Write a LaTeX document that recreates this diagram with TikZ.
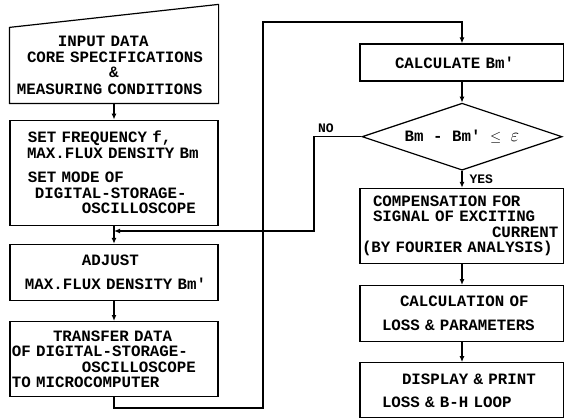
\documentclass[tikz,border=0pt]{standalone}
\usepackage{fontspec}
\newfontfamily\flowfont{Liberation Mono}
\usetikzlibrary{positioning,shapes.geometric,arrows.meta}
\newcommand{\ind}[1]{\hspace*{#1pt}}

\begin{document}
\begin{tikzpicture}[x=1pt, y=-1pt,
    every node/.style={font=\flowfont\bfseries\fontsize{15.8}{15.5}\selectfont},
    lbox/.style={draw, line width=1.2pt, inner xsep=2pt, inner ysep=0pt,
        minimum width=208pt, text width=204pt, align=left},
    rbox/.style={lbox, minimum width=204pt, text width=200pt},
    flow/.style={-{Latex[length=6pt,width=5pt]}, line width=1.2pt},
    tag/.style={font=\flowfont\bfseries\fontsize{13}{13}\selectfont, inner sep=1pt}]

    \useasboundingbox (0,0) rectangle (564,417);

    % left column
    \node[lbox, draw=none, minimum height=75pt] (input) at (114,65.5)
        {\ind{46}INPUT DATA\\\ind{15}CORE SPECIFICATIONS\\\ind{97}\&\\[1pt]\ind{5}MEASURING CONDITIONS};
    \draw[line width=1.2pt, line join=round] (input.north west) -- (input.south west)
        -- (input.south east) -- ([yshift=23pt]input.north east) -- cycle;
    \node[lbox, minimum height=105pt, below=16pt of input] (setup)
        {\ind{16}SET FREQUENCY f,\\\ind{15}MAX.FLUX DENSITY Bm\\[9pt]\ind{16}SET MODE OF\\\ind{23}DIGITAL-STORAGE-\\\ind{70}OSCILLOSCOPE};
    \node[lbox, minimum height=56pt, below=18pt of setup] (adjust)
        {\ind{70}ADJUST\\[8.5pt]\ind{13}MAX.FLUX DENSITY Bm'};
    \node[lbox, minimum height=75pt, below=20pt of adjust] (transfer)
        {\ind{41}TRANSFER DATA\\OF DIGITAL-STORAGE-\\\ind{70}OSCILLOSCOPE\\TO MICROCOMPUTER};

    % right column
    \node[rbox, minimum height=37pt] (calc) at (462,62.5) {\ind{33}CALCULATE Bm'};
    \node[draw, diamond, aspect=3, line width=1.2pt, minimum width=200pt, minimum height=67pt,
        inner sep=0pt, below=21pt of calc] (test)
        {Bm - Bm' $\leq$ \scalebox{1.3}{$\varepsilon$}};
    \node[rbox, minimum height=75pt, below=17pt of test] (comp)
        {\ind{11}COMPENSATION FOR\\\ind{11}SIGNAL OF EXCITING\\\mbox{\ind{130}CURRENT}\\\mbox{(BY FOURIER ANALYSIS)}};
    \node[rbox, minimum height=56pt, below=21pt of comp] (loss)
        {\ind{38}CALCULATION OF\\[8.5pt]\ind{20}LOSS \& PARAMETERS};
    \node[rbox, minimum height=55pt, below=20pt of loss] (display)
        {\ind{40}DISPLAY \& PRINT\\[7.5pt]\ind{20}LOSS \& B-H LOOP};

    \coordinate (backlow) at (263,408);
    \coordinate (backtop) at (263,22);
    \coordinate (nobend) at (314,231);
    \coordinate (nojoin) at (114,231);

    \draw[flow] (input) -- (setup);
    \draw[flow] (setup) -- (adjust);
    \draw[flow] (adjust) -- (transfer);
    \draw[flow] (transfer.south) |- (backlow) -- (backtop) -| (calc.north);
    \draw[flow] (calc) -- (test);
    \draw[flow] (test) -- node[tag, right, xshift=6pt]{YES} (comp);
    \draw[flow] (test.west) -- node[tag, above, pos=0.75, yshift=2pt]{NO} (test.west -| nobend) |- (nojoin);
    \draw[flow] (comp) -- (loss);
    \draw[flow] (loss) -- (display);

\end{tikzpicture}
\end{document}
